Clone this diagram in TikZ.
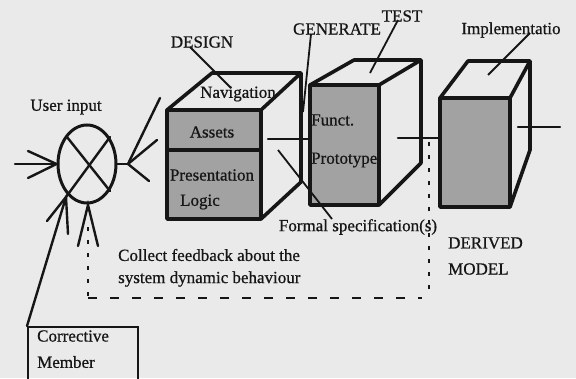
\documentclass[tikz,border=0pt]{standalone}
\usepackage{fontspec}
\setmainfont{Liberation Serif}
\newfontfamily\lblfont{Liberation Serif}[FakeBold=0.7]
\usetikzlibrary{shapes.geometric}
\definecolor{paper}{RGB}{234,234,234}
\definecolor{ink}{RGB}{22,22,22}
\definecolor{facegray}{RGB}{162,162,162}
\begin{document}
\begin{tikzpicture}[x=1pt,y=-1pt,
  lbl/.style={font=\lblfont\fontsize{17}{20}\selectfont, inner sep=0pt, text=ink},
  cubeedge/.style={draw=ink, line width=3.6pt, line join=round},
  wire/.style={draw=ink, line width=2.4pt, line cap=round},
  leader/.style={draw=ink, line width=1.8pt},
  dotline/.style={draw=ink, line width=2pt, dash pattern=on 4pt off 9pt},
  dashline/.style={draw=ink, line width=2pt, dash pattern=on 9pt off 13pt}]
\fill[paper] (0,0) rectangle (576,378);
\useasboundingbox (0,0) rectangle (576,378);
\clip (0,0) rectangle (576,378);

% ---------- cube 1: DESIGN ----------
\coordinate (c1fa) at (167,110); \coordinate (c1fb) at (261,110);
\coordinate (c1fc) at (261,219); \coordinate (c1fd) at (167,219);
\coordinate (c1ta) at (212,73);  \coordinate (c1tb) at (301,73);
\coordinate (c1rb) at (301,182);
\coordinate (c1ml) at (167,150); \coordinate (c1mr) at (261,150);
\path[cubeedge, fill=paper] (c1fa) -- (c1ta) -- (c1tb) -- (c1rb) -- (c1fc) -- (c1fb) -- cycle;
\draw[cubeedge] (c1fb) -- (c1tb);
\path[cubeedge, fill=facegray] (c1fa) rectangle (c1fc);
\draw[cubeedge] (c1ml) -- (c1mr);

% ---------- cube 2: GENERATE / TEST ----------
\coordinate (c2fa) at (310,85);  \coordinate (c2fb) at (379,85);
\coordinate (c2fc) at (379,205); \coordinate (c2fd) at (310,205);
\coordinate (c2ta) at (354,60);  \coordinate (c2tb) at (421,60);
\coordinate (c2rb) at (421,163);
\path[cubeedge, fill=paper] (c2fa) -- (c2ta) -- (c2tb) -- (c2rb) -- (c2fc) -- (c2fb) -- cycle;
\draw[cubeedge] (c2fb) -- (c2tb);
\path[cubeedge, fill=facegray] (c2fa) rectangle (c2fc);

% ---------- cube 3: implementation ----------
\coordinate (c3fa) at (440,98);  \coordinate (c3fb) at (510,98);
\coordinate (c3fc) at (510,207); \coordinate (c3fd) at (440,207);
\coordinate (c3ta) at (468,61);  \coordinate (c3tb) at (530,61);
\coordinate (c3rb) at (530,150);
\path[cubeedge, fill=paper] (c3fa) -- (c3ta) -- (c3tb) -- (c3rb) -- (c3fc) -- (c3fb) -- cycle;
\draw[cubeedge] (c3fb) -- (c3tb);
\path[cubeedge, fill=facegray] (c3fa) rectangle (c3fc);

% links between the cubes
\coordinate (l1a) at (268,139); \coordinate (l1b) at (310,139);
\coordinate (l2a) at (398,138); \coordinate (l2b) at (440,138);
\coordinate (l3a) at (518,127); \coordinate (l3b) at (560,127);
\draw[wire] (l1a) -- (l1b);
\draw[wire] (l2a) -- (l2b);
\draw[wire] (l3a) -- (l3b);

% ---------- summing junction ----------
\node (sum) [ellipse, draw=ink, line width=3pt, minimum width=58pt, minimum height=78pt, inner sep=0pt] at (87,164) {};
\coordinate (x1a) at (67,137); \coordinate (x1b) at (110,191);
\coordinate (x2a) at (110,137); \coordinate (ctip) at (66,197);
\draw[wire] (x1a) -- (x1b);
\draw[wire] (x2a) -- (ctip);

% user input arrow
\coordinate (uin) at (15,164);
\coordinate (up1) at (28,151); \coordinate (up2) at (28,178);
\draw[wire] (uin) -- (sum.west);
\draw[wire] (up1) -- (sum.west) -- (up2);

% feedback from the design cube
\coordinate (rtip) at (128,164);
\coordinate (rsrc) at (160,98);
\coordinate (rp1) at (157,140); \coordinate (rp2) at (149,181);
\draw[wire] (sum.east) -- (rtip);
\draw[wire] (rsrc) -- (rtip);
\draw[wire] (rp1) -- (rtip) -- (rp2);

% corrective member arrow
\coordinate (cp1) at (47,221); \coordinate (cp2) at (68,234);
\draw[wire] (cp1) -- (ctip) -- (cp2);

% feedback loop arrow (dashed)
\coordinate (btip) at (88,205);
\coordinate (bp1) at (78,246); \coordinate (bp2) at (98,246);
\draw[wire] (bp1) -- (btip) -- (bp2);
\coordinate (fbs) at (88,227);
\coordinate (fbc) at (88,298);
\coordinate (fbe) at (422,298);
\coordinate (dvt) at (429,142);
\coordinate (dvb) at (429,292);
\draw[dotline] (fbs) -- (fbc);
\draw[dashline] (fbc) -- (fbe);
\draw[dotline] (dvt) -- (dvb);

% ---------- corrective member box ----------
\node (corr) [draw=ink, line width=2.2pt, minimum width=110pt, minimum height=70pt, anchor=north west, inner sep=0pt] at (27,326) {};
\draw[wire] (corr.north west) -- (ctip);
\node[lbl, anchor=west] (corr1) at (37,336) {Corrective};
\node[lbl, anchor=west] (corr2) at (37,362) {Member};

% ---------- labels ----------
\node[lbl] (uinput) at (66,107) {User input};
\node[lbl] (design) at (202,42) {DESIGN};
\node[lbl] (nav) at (238,94) {Navigation};
\node[lbl] (assets) at (212,132) {Assets};
\node[lbl] (pres) at (212,175) {Presentation};
\node[lbl] (logic) at (200,202) {Logic};
\node[lbl] (gen) at (337,29) {GENERATE};
\node[lbl] (test) at (402,16) {TEST};
\node[lbl, anchor=west] (funct) at (311,120) {Funct.};
\node[lbl, anchor=west] (proto) at (311,160) {Prototype};
\node[lbl] (impl) at (511,30) {Implementatio};
\node[lbl] (formal) at (358,227) {Formal specification(s)};
\node[lbl, anchor=west] (der1) at (448,243) {DERIVED};
\node[lbl, anchor=west] (der2) at (448,269) {MODEL};
\node[lbl, anchor=west] (coll1) at (118,255) {Collect feedback about the};
\node[lbl, anchor=west] (coll2) at (118,279) {system dynamic behaviour};

% leader lines from the labels
\coordinate (ldes) at (231,88);
\draw[leader] (190,47) -- (ldes);
\coordinate (lgen) at (303,112);
\draw[leader] (311,34) -- (lgen);
\coordinate (ltest) at (370,73);
\draw[leader] (398,20) -- (ltest);
\coordinate (limp) at (488,75);
\draw[leader] (530,33) -- (limp);
\coordinate (lfor) at (278,150);
\draw[leader] (332,219) -- (lfor);
\end{tikzpicture}
\end{document}
